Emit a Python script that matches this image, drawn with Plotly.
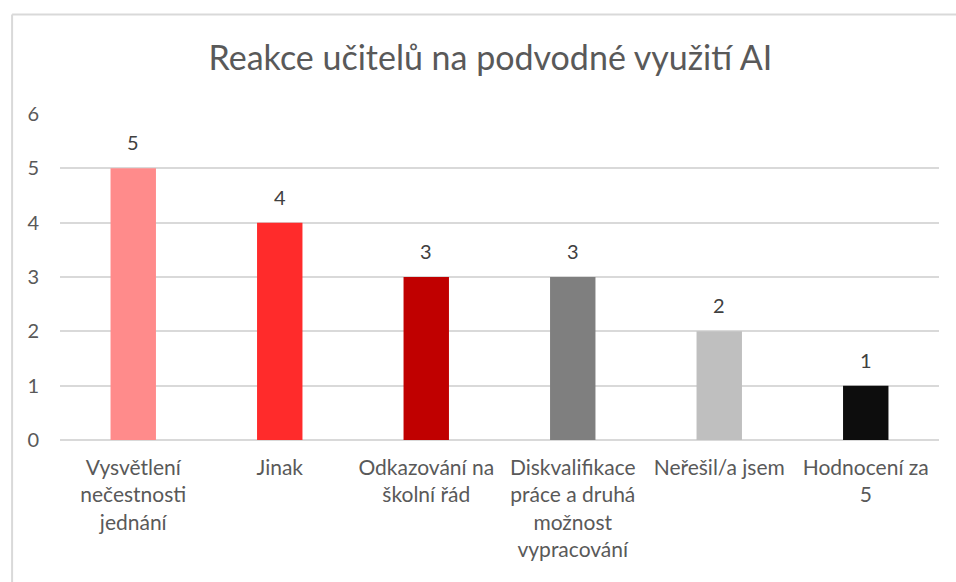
import plotly.graph_objects as go

# Teacher reactions to dishonest use of AI
categories = [
    "Vysvětlení<br>nečestnosti<br>jednání",
    "Jinak",
    "Odkazování na<br>školní řád",
    "Diskvalifikace<br>práce a druhá<br>možnost<br>vypracování",
    "Neřešil/a jsem",
    "Hodnocení za<br>5",
]
counts = [5, 4, 3, 3, 2, 1]
bar_colors = ["#FF8B8B", "#FF2B2B", "#C00000", "#7F7F7F", "#BFBFBF", "#0D0D0D"]
y_ticks = [0, 1, 2, 3, 4, 5, 6]

title_text = "Reakce učitelů na podvodné využití AI"
font_family = "Lato, 'Open Sans', sans-serif"

fig = go.Figure(
    go.Bar(
        x=categories,
        y=counts,
        marker=dict(color=bar_colors, line=dict(width=0)),
        width=0.31,
        hoverinfo="x+y",
    )
)

# value labels above each bar
for cat, val in zip(categories, counts):
    fig.add_annotation(
        x=cat, y=val, text=str(val), showarrow=False,
        yanchor="bottom", yshift=12,
        font=dict(family=font_family, size=20, color="#404040"),
    )

# chart frame (top and left edges)
frame = "#D9D9D9"
fig.add_shape(type="line", xref="paper", yref="paper", x0=-0.0545, x1=1.02,
              y0=1.305, y1=1.305, line=dict(color=frame, width=2))
fig.add_shape(type="line", xref="paper", yref="paper", x0=-0.0545, x1=-0.0545,
              y0=1.305, y1=-0.45, line=dict(color=frame, width=2))

fig.update_layout(
    width=956,
    height=582,
    margin=dict(l=60, r=17, t=114, b=142),
    paper_bgcolor="white",
    plot_bgcolor="white",
    showlegend=False,
    bargap=0.69,
    title=dict(
        text=title_text,
        x=0.513, xanchor="center",
        y=0.9, yanchor="middle",
        font=dict(family=font_family, size=34, color="#595959"),
    ),
    font=dict(family=font_family, color="#595959"),
)

fig.update_xaxes(
    type="category",
    showgrid=False,
    showline=False,
    ticks="",
    tickfont=dict(family=font_family, size=21, color="#595959"),
    ticklabelstandoff=13,
    tickangle=0,
)
fig.update_yaxes(
    range=[0, 6],
    tickvals=y_ticks,
    showgrid=True,
    gridcolor="#D9D9D9",
    gridwidth=1.5,
    zeroline=True,
    zerolinecolor="#D9D9D9",
    zerolinewidth=1.5,
    showline=False,
    ticks="",
    tickfont=dict(family=font_family, size=20, color="#595959"),
    ticklabelstandoff=20,
)

fig.write_html("out.html")
